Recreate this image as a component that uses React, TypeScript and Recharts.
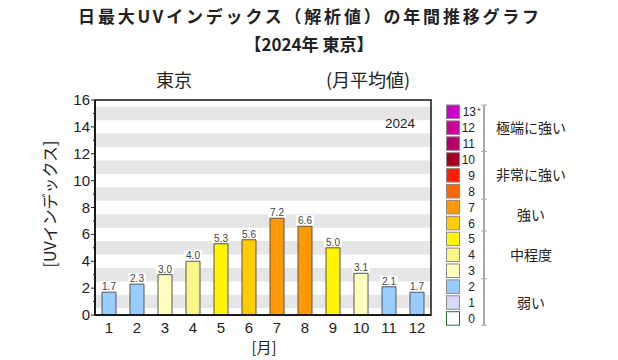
import React from 'react';
import { BarChart, Bar, XAxis, YAxis, ReferenceArea, LabelList, Cell } from 'recharts';

const months = ['1', '2', '3', '4', '5', '6', '7', '8', '9', '10', '11', '12'];
const uvValues = [1.7, 2.3, 3.0, 4.0, 5.3, 5.6, 7.2, 6.6, 5.0, 3.1, 2.1, 1.7];
const yTicks = [0, 1, 2, 3, 4, 5, 6, 7, 8, 9, 10, 11, 12, 13, 14, 15, 16];
const levelLabels = ['0', '1', '2', '3', '4', '5', '6', '7', '8', '9', '10', '11', '12', '13'];
const levelColors = [
  '#ffffff', '#d9d9ff', '#99ccff', '#ffffc0', '#faf687', '#fff500', '#ffcc00',
  '#ff9900', '#ff6600', '#ff1e00', '#a50021', '#b5006a', '#cc0099', '#cc00cc',
];
const groups = [
  { name: '弱い', from: 0, to: 2 },
  { name: '中程度', from: 3, to: 5 },
  { name: '強い', from: 6, to: 7 },
  { name: '非常に強い', from: 8, to: 10 },
  { name: '極端に強い', from: 11, to: 13 },
];
const titleLine1 = '日最大UVインデックス（解析値）の年間推移グラフ';
const titleLine2 = '【2024年 東京】';
const placeName = '東京';
const subTitle = '(月平均値)';
const yearLabel = '2024';
const yLabel = '[UVインデックス]';
const xLabel = '[月]';

const data = months.map((m, i) => ({ month: m, uv: uvValues[i] }));

const FONT = '"Liberation Sans", Arial, "Noto Sans CJK JP", sans-serif';
const JFONT = '"Noto Sans CJK JP", "Liberation Sans", sans-serif';

const W = 618;
const H = 360;
const PL = 95;
const PT = 100;
const PR = 431;
const PB = 315;
const Y_AXIS_W = 40;
const X_AXIS_H = 30;

const YTick = (props: any) => {
  const { x, y, payload } = props;
  const v = payload.value as number;
  const major = v % 2 === 0;
  return (
    <g>
      <line x1={x - (major ? 4 : 2)} x2={x} y1={y} y2={y} stroke="#222" strokeWidth={1} />
      {major && (
        <text x={x - 5} y={y + 5} textAnchor="end" fontSize={15} fill="#222" fontFamily={FONT}>
          {v}
        </text>
      )}
    </g>
  );
};

const BarLabel = (props: any) => {
  const { x, y, width, value } = props;
  const cx = x + width / 2;
  return (
    <g>
      <rect x={cx - 9} y={y - 11} width={18} height={10} fill="#ffffff" />
      <text x={cx} y={y - 2} textAnchor="middle" fontSize={10} fill="#444" fontFamily={FONT}>
        {Number(value).toFixed(1)}
      </text>
    </g>
  );
};

const colorFor = (v: number) => levelColors[Math.min(13, Math.round(v))];

const BOX_TOP = 105;
const BOX_PITCH = 15.9;
const BOX_H = 13.5;
const boxY = (lvl: number) => BOX_TOP + (13 - lvl) * BOX_PITCH;

export default function App() {
  return (
    <div style={{ position: 'absolute', left: 0, top: 0, width: W, height: H, background: '#fff' }}>
      <BarChart
        width={W}
        height={H}
        data={data}
        margin={{ top: PT, right: W - PR, bottom: H - PB - X_AXIS_H, left: PL - Y_AXIS_W }}
        barCategoryGap={0}
      >
        {yTicks
          .filter((t) => t % 2 === 1)
          .map((t) => (
            <ReferenceArea
              key={t}
              y1={t - 0.5}
              y2={t + 0.5}
              fill="#e6e6e6"
              fillOpacity={1}
              stroke="none"
              ifOverflow="hidden"
            />
          ))}
        <XAxis
          dataKey="month"
          height={X_AXIS_H}
          tickLine={false}
          tickSize={0}
          tickMargin={7}
          axisLine={{ stroke: '#000', strokeWidth: 2 }}
          tick={{ fontSize: 15, fill: '#222', fontFamily: FONT }}
          interval={0}
        />
        <YAxis
          width={Y_AXIS_W}
          domain={[0, 16]}
          ticks={yTicks}
          interval={0}
          tickSize={0}
          tickMargin={0}
          tickLine={false}
          axisLine={{ stroke: '#000', strokeWidth: 2 }}
          tick={<YTick />}
        />
        <Bar dataKey="uv" barSize={14} stroke="#555" strokeWidth={1} isAnimationActive={false}>
          {data.map((d, i) => (
            <Cell key={i} fill={colorFor(d.uv)} />
          ))}
          <LabelList dataKey="uv" content={<BarLabel />} />
        </Bar>
      </BarChart>
      <svg
        width={W}
        height={H}
        style={{ position: 'absolute', left: 0, top: 0, pointerEvents: 'none' }}
      >
        <rect x={PL} y={PT} width={PR - PL} height={PB - PT} fill="none" stroke="#222" strokeWidth={1.6} />
        <text x={310} y={23} textAnchor="middle" fontSize={17} fontWeight={700} letterSpacing={2.8} fill="#222" fontFamily={JFONT}>
          {titleLine1}
        </text>
        <text x={309} y={51} textAnchor="middle" fontSize={17} fontWeight={700} letterSpacing={0} fill="#222" fontFamily={JFONT}>
          {titleLine2}
        </text>
        <text x={174} y={87} textAnchor="middle" fontSize={18} fill="#222" fontFamily={JFONT}>
          {placeName}
        </text>
        <text x={368} y={87} textAnchor="middle" fontSize={18} fill="#222" fontFamily={JFONT}>
          {subTitle}
        </text>
        <text x={415} y={128} textAnchor="end" fontSize={13.5} fill="#222" fontFamily={FONT}>
          {yearLabel}
        </text>
        <text
          x={0}
          y={0}
          transform={`translate(56, 204) rotate(-90)`}
          textAnchor="middle"
          fontSize={16}
          fill="#222"
          fontFamily={JFONT}
        >
          {yLabel}
        </text>
        <text x={264} y={353} textAnchor="middle" fontSize={15} fill="#222" fontFamily={JFONT}>
          {xLabel}
        </text>
        {levelLabels.map((lab, lvl) => (
          <g key={lvl}>
            <rect
              x={446.5}
              y={boxY(lvl)}
              width={13}
              height={BOX_H}
              fill={levelColors[lvl]}
              stroke={lvl === 0 ? '#2e6b2e' : '#8a8a8a'}
              strokeWidth={1}
            />
            <text x={lvl === 13 ? 476 : 475} y={boxY(lvl) + BOX_H / 2 + 4.5} textAnchor="end" fontSize={12} fill="#222" fontFamily={FONT}>
              {lab}
            </text>
            {lvl === 13 && (
              <text x={476.5} y={boxY(lvl) + BOX_H / 2} textAnchor="start" fontSize={8} fill="#222" fontFamily={FONT}>
                +
              </text>
            )}
          </g>
        ))}
        <line x1={484} x2={484} y1={boxY(13)} y2={boxY(0) + BOX_H} stroke="#aaa" strokeWidth={2} />
        {groups.map((g) => {
          const top = boxY(g.to);
          const bot = boxY(g.from) + BOX_H;
          const tickY = g.from === 0 ? bot : boxY(g.from) + BOX_H + (BOX_PITCH - BOX_H) / 2;
          return (
            <g key={g.name}>
              <line x1={481} x2={487} y1={tickY} y2={tickY} stroke="#aaa" strokeWidth={1} />
              {g.to === 13 && <line x1={481} x2={487} y1={top} y2={top} stroke="#aaa" strokeWidth={1} />}
              <text x={531} y={(top + bot) / 2 + 5} textAnchor="middle" fontSize={14} fill="#222" fontFamily={JFONT}>
                {g.name}
              </text>
            </g>
          );
        })}
      </svg>
    </div>
  );
}
